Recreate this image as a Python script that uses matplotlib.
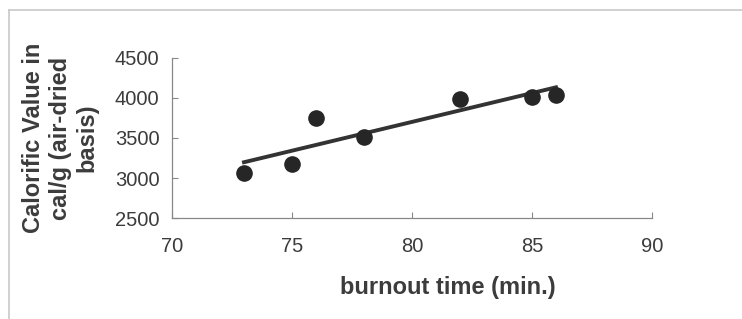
import numpy as np
import matplotlib.pyplot as plt
from matplotlib.lines import Line2D

# burnout time (min.) vs calorific value (cal/g, air-dried basis)
burnout_min = [73, 75, 76, 78, 82, 85, 86]
calorific = [3062, 3179, 3746, 3516, 3992, 4017, 4037]

x_ticks = [70, 75, 80, 85, 90]
y_ticks = [2500, 3000, 3500, 4000, 4500]

plt.rcParams["font.family"] = ["Liberation Sans", "DejaVu Sans"]
text_col = "#3c3c3c"

fig = plt.figure(figsize=(7.42, 3.19), dpi=100)
ax = fig.add_axes([0.2318, 0.3166, 0.6469, 0.5016])

ax.scatter(burnout_min, calorific, s=120, color="#262626", zorder=3)

# linear trendline
slope, icpt = np.polyfit(burnout_min, calorific, 1)
xs = np.array([min(burnout_min), max(burnout_min)])
ax.plot(xs, slope * xs + icpt, color="#333333", lw=2.8, zorder=2)

ax.set_xlim(70, 90)
ax.set_ylim(2500, 4500)
ax.set_xticks(x_ticks)
ax.set_yticks(y_ticks)
ax.tick_params(axis="both", direction="in", length=4, width=0.8,
               color="#888888", labelsize=14.5, labelcolor=text_col)
ax.tick_params(axis="x", pad=14)
ax.tick_params(axis="y", pad=9)
for s in ["top", "right"]:
    ax.spines[s].set_visible(False)
for s in ["left", "bottom"]:
    ax.spines[s].set_color("#888888")
    ax.spines[s].set_linewidth(0.9)

fig.text(0.604, 0.10, "burnout time (min.)", ha="center", va="center",
         fontsize=17, fontweight="bold", color=text_col)
fig.text(0.081, 0.567, "Calorific Value in\ncal/g (air-dried\nbasis)",
         ha="center", va="center", rotation=90, fontsize=17,
         fontweight="bold", color=text_col, linespacing=1.2)

# faint frame at left and top of the scan
fig.add_artist(Line2D([9 / 742, 9 / 742], [0, 1 - 10 / 319],
                      transform=fig.transFigure, color="#c8c8c8", lw=1.2))
fig.add_artist(Line2D([9 / 742, 1], [1 - 10 / 319, 1 - 10 / 319],
                      transform=fig.transFigure, color="#c8c8c8", lw=1.2))

fig.savefig("out.png", dpi=100)
